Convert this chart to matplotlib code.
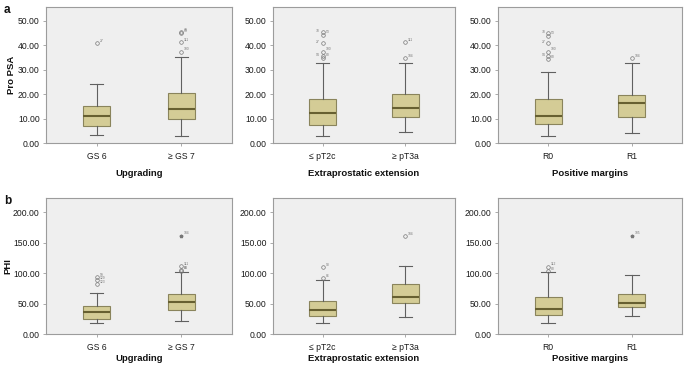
import matplotlib
matplotlib.use("Agg")
import matplotlib.pyplot as plt

plt.rcParams['font.family'] = ['Liberation Sans', 'DejaVu Sans']

# ---------------- data ----------------
group_titles = ["Upgrading", "Extraprostatic extension", "Positive margins"]
categories = [["GS 6", "\u2265 GS 7"], ["\u2264 pT2c", "\u2265 pT3a"], ["R0", "R1"]]

# Pro PSA (panel a): [group][category]
propsa_whislo = [[3.2, 2.8], [2.8, 4.5], [2.8, 4.2]]
propsa_q1 = [[7.0, 9.8], [7.2, 10.8], [7.8, 10.7]]
propsa_med = [[11.0, 14.0], [12.3, 14.5], [11.0, 16.3]]
propsa_q3 = [[15.3, 20.3], [18.0, 20.0], [18.0, 19.8]]
propsa_whishi = [[24.3, 35.3], [32.8, 32.8], [29.1, 32.8]]
propsa_out = [[[40.9], [37.4, 41.1, 45.0, 45.2]],
              [[34.8, 35.6, 37.4, 40.9, 44.2, 45.2], [34.7, 41.1]],
              [[34.2, 35.7, 37.4, 40.9, 43.9, 45.0], [34.7]]]
propsa_out_lab = [[["27"], ["100", "111", "53", "78"]],
                  [["80", "94", "100", "27", "53", "78"], ["104", "111"]],
                  [["80", "94", "100", "27", "53", "78"], ["104"]]]
propsa_ext = [[[], []], [[], []], [[], []]]
propsa_ext_lab = [[[], []], [[], []], [[], []]]

# PHI (panel b)
phi_whislo = [[18.5, 21.9], [18.0, 28.5], [18.0, 29.6]]
phi_q1 = [[24.5, 39.9], [30.0, 51.0], [30.7, 44.4]]
phi_med = [[36.0, 52.0], [39.5, 60.0], [40.5, 51.5]]
phi_q3 = [[45.6, 65.6], [54.5, 82.5], [61.4, 66.3]]
phi_whishi = [[68.0, 102.0], [88.0, 111.5], [101.0, 96.0]]
phi_out = [[[81.5, 88.0, 93.4], [103.8, 105.0, 111.5]],
           [[91.3, 109.3], [160.2]],
           [[103.3, 110.4], []]]
phi_out_lab = [[["123", "129", "59"], ["80", "86", "111"]],
               [["86", "98"], ["104"]],
               [["80", "112"], []]]
phi_ext = [[[], [161.0]], [[], []], [[], [160.0]]]
phi_ext_lab = [[[], ["104"]], [[], []], [[], ["105"]]]

# ---------------- style ----------------
BG = "#efefef"
BOX_FILL = "#d4cc96"
BOX_EDGE = "#8a845c"
MED = "#676031"
WHISK = "#606060"
SPINE = "#9c9c9c"

fig = plt.figure(figsize=(6.85, 3.65), dpi=100)
W, H = 685.0, 365.0
lefts = [46, 273, 498]
widths = [186, 182, 184]
rows = [(7, 143), (198, 334)]

panels = [
    dict(whislo=propsa_whislo, q1=propsa_q1, med=propsa_med, q3=propsa_q3, whishi=propsa_whishi,
         out=propsa_out, outlab=propsa_out_lab, ext=propsa_ext, extlab=propsa_ext_lab,
         ylim=(0, 55.6), ticks=[0, 10, 20, 30, 40, 50], ylabel="Pro PSA", letter="a",
         tickpad=5, labelpad=6, ylabel_x=11),
    dict(whislo=phi_whislo, q1=phi_q1, med=phi_med, q3=phi_q3, whishi=phi_whishi,
         out=phi_out, outlab=phi_out_lab, ext=phi_ext, extlab=phi_ext_lab,
         ylim=(0, 223), ticks=[0, 50, 100, 150, 200], ylabel="PHI", letter="b",
         tickpad=5, labelpad=1.5, ylabel_x=8),
]

for r, P in enumerate(panels):
    top, bot = rows[r]
    for g in range(3):
        ax = fig.add_axes([lefts[g] / W, 1 - bot / H, widths[g] / W, (bot - top) / H])
        ax.set_facecolor(BG)
        stats = []
        for c in range(2):
            stats.append(dict(whislo=P['whislo'][g][c], q1=P['q1'][g][c], med=P['med'][g][c],
                              q3=P['q3'][g][c], whishi=P['whishi'][g][c], fliers=P['out'][g][c]))
        ax.bxp(stats, positions=[1, 2], widths=0.32, patch_artist=True, showfliers=True,
               boxprops=dict(facecolor=BOX_FILL, edgecolor=BOX_EDGE, linewidth=0.8),
               medianprops=dict(color=MED, linewidth=1.5),
               whiskerprops=dict(color=WHISK, linewidth=0.8),
               capprops=dict(color=WHISK, linewidth=0.8),
               capwidths=0.16,
               flierprops=dict(marker='o', markersize=2.6, markerfacecolor='none',
                               markeredgecolor='#777777', markeredgewidth=0.5))
        for c in range(2):
            vals = P['out'][g][c]
            for k, (v, lab) in enumerate(zip(vals, P['outlab'][g][c])):
                dense = len(vals) > 4 and k % 2 == 1
                ax.annotate(lab, (c + 1, v), xytext=((-2, 0) if dense else (2, 1)),
                            textcoords='offset points', ha=('right' if dense else 'left'),
                            fontsize=2.4, color='#777777')
            for v, lab in zip(P['ext'][g][c], P['extlab'][g][c]):
                ax.plot([c + 1], [v], marker='*', markersize=2.5, color='#777777', linestyle='none')
                ax.annotate(lab, (c + 1, v), xytext=(2, 1.5), textcoords='offset points',
                            fontsize=2.4, color='#777777')
        ax.set_xlim(0.4, 2.6)
        ax.set_ylim(*P['ylim'])
        ax.set_yticks(P['ticks'])
        ax.set_yticklabels([f"{t:.2f}" for t in P['ticks']])
        ax.set_xticks([1, 2])
        ax.set_xticklabels(categories[g])
        ax.tick_params(axis='both', labelsize=6.2, length=2.5, width=0.6, color=SPINE,
                       labelcolor='#1a1a1a', pad=2)
        ax.tick_params(axis='x', pad=P['tickpad'] - 1)
        for s in ax.spines.values():
            s.set_color(SPINE)
            s.set_linewidth(0.8)
        ax.set_xlabel(group_titles[g], fontsize=6.8, fontweight='bold',
                      labelpad=P['labelpad'], color='#111111')
    fig.text(P['ylabel_x'] / W, 1 - ((top + bot) / 2) / H, P['ylabel'], rotation=90, fontsize=6.8,
             fontweight='bold', va='center', ha='center', color='#111111')
    fig.text(4 / W, 1 - (top - 3) / H, P['letter'], fontsize=8.5, fontweight='bold',
             va='top', ha='left', color='#111111')

fig.savefig("out.png", dpi=100)
